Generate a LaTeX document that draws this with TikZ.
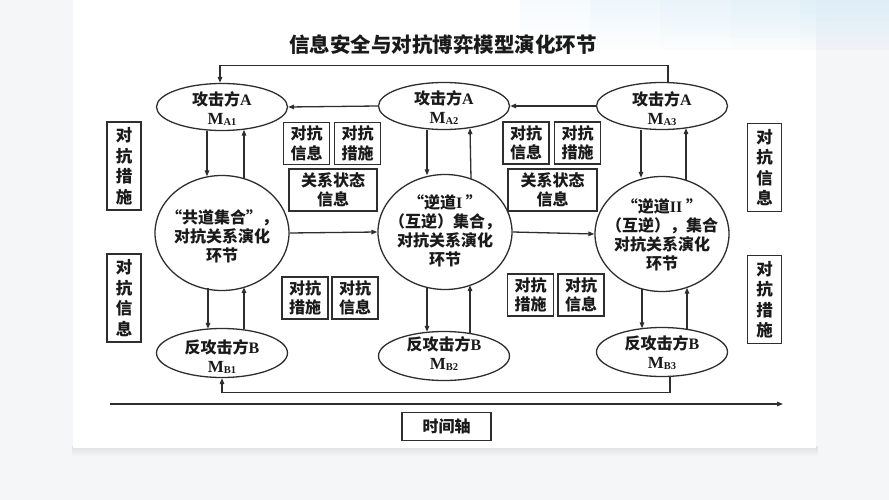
\documentclass[tikz,border=0pt]{standalone}
\usepackage{fontspec}
\usetikzlibrary{shapes.geometric,arrows.meta,fadings,calc}
\setmainfont{Noto Sans CJK SC}
\newfontfamily\lat{Liberation Serif}
\definecolor{linec}{HTML}{2E2E2E}
\definecolor{textc}{HTML}{1A1A1A}
\definecolor{bgc}{HTML}{F5F6F7}
\definecolor{tintc}{HTML}{D6ECF8}
\newcommand\LA[1]{{\lat\bfseries #1}}
\newcommand\MSub[1]{{\lat\bfseries\fontsize{17pt}{17pt}\selectfont M\raisebox{-1pt}{\fontsize{10.5pt}{10.5pt}\selectfont #1}}}
\begin{document}
\begin{tikzpicture}[x=1pt,y=-1pt,
  line/.style={draw=linec, line width=1.3pt},
  arr/.style={line, -{Triangle[length=6pt,width=4.5pt]}},
  ellA/.style={ellipse, draw=linec, line width=1.3pt, fill=white, minimum width=131pt, minimum height=47pt, inner sep=0pt},
  circ/.style={ellipse, draw=linec, line width=1.3pt, fill=white, minimum width=134pt, minimum height=115pt, inner sep=0pt},
  txt/.style={align=center, font=\bfseries\fontsize{16pt}{19pt}\selectfont, text=textc, inner sep=0pt},
  box/.style={draw=linec, line width=1.3pt, fill=white, minimum width=46pt, minimum height=42pt, inner sep=0pt, align=center, text=textc, font=\bfseries\fontsize{16pt}{19.5pt}\selectfont},
  wbox/.style={box, minimum width=88pt},
  sbox/.style={box, minimum width=34pt, minimum height=88pt, font=\bfseries\fontsize{16.5pt}{20.5pt}\selectfont}
]
\useasboundingbox (0,0) rectangle (889,500);
% background and card
\fill[bgc] (0,0) rectangle (889,500);
\fill[black!12, path fading=south] (72,446) rectangle (818,456);
\fill[white] (73,0) rectangle (816,448);
\foreach \sx in {520,590,660,730,800}
  \fill[tintc, opacity=0.22, path fading=south] (\sx,0) rectangle (889,50);
% title
\node[font=\bfseries\fontsize{20.5pt}{24pt}\selectfont, text=textc] (title) at (443,45) {信息安全与对抗博弈模型演化环节};

% ellipses
\node[ellA] (A1) at (222,107) {};
\node[ellA] (A2) at (444,106) {};
\node[ellA] (A3) at (662,106) {};
\node[ellA, minimum height=49pt] (B1) at (222,353) {};
\node[ellA, minimum height=49pt] (B2) at (444,356) {};
\node[ellA, minimum height=49pt] (B3) at (662,352) {};
\node[circ] (C1) at (222,233) {};
\node[circ] (C2) at (445,232) {};
\node[circ] (C3) at (662,234) {};

% ellipse texts
\node[txt] (tA1) at (222,108.5) {攻击方\LA{A}\\\MSub{A1}};
\node[txt] (tA2) at (444,108) {攻击方\LA{A}\\\MSub{A2}};
\node[txt] (tA3) at (662,108.5) {攻击方\LA{A}\\\MSub{A3}};
\node[txt] (tB1) at (222,357) {反攻击方\LA{B}\\\MSub{B1}};
\node[txt] (tB2) at (444,354) {反攻击方\LA{B}\\\MSub{B2}};
\node[txt] (tB3) at (662,352.5) {反攻击方\LA{B}\\\MSub{B3}};
\node[txt] (tC1) at (222,236) {“共道集合”，\\对抗关系演化\\环节};
\node[txt] (tC2) at (445,231) {“逆道\LA{I} ”\\（互逆）集合，\\对抗关系演化\\环节};
\node[txt] (tC3) at (662,235) {“逆道\LA{II} ”\\（互逆），集合\\对抗关系演化\\环节};

% boxes
\node[box] (b1) at (306.5,143.5) {对抗\\信息};
\node[box] (b2) at (357.5,143.5) {对抗\\措施};
\node[wbox] (b3) at (333,190) {关系状态\\信息};
\node[box] (b4) at (526,143) {对抗\\信息};
\node[box] (b5) at (577.5,143) {对抗\\措施};
\node[wbox, minimum width=89pt] (b6) at (552.5,190) {关系状态\\信息};
\node[box] (b7) at (305,298) {对抗\\措施};
\node[box] (b8) at (355,298) {对抗\\信息};
\node[box] (b9) at (530.5,295) {对抗\\措施};
\node[box] (b10) at (581,295) {对抗\\信息};
\node[sbox] (s1) at (124,166) {对\\抗\\措\\施};
\node[sbox] (s2) at (124,298) {对\\抗\\信\\息};
\node[sbox] (s3) at (764.5,167.5) {对\\抗\\信\\息};
\node[sbox] (s4) at (764.5,299.5) {对\\抗\\措\\施};

% horizontal arrows
\draw[arr] (A3.west) -- (A2.east);
\draw[arr] (A2.west) -- (A1.east);
\draw[arr] (C1.east) -- (C2.west);
\draw[arr] (C2.east) -- (C3.west);

% vertical arrows column 1
\draw[arr] ([xshift=-15pt]A1.south) -- ([xshift=-15pt,yshift=-1.5pt]C1.north);
\draw[arr] ([xshift=22pt,yshift=-4pt]C1.north) -- ([xshift=22pt,yshift=1.5pt]A1.south);
\draw[arr] ([xshift=-14pt,yshift=3pt]C1.south) -- ([xshift=-14pt,yshift=-1pt]B1.north);
\draw[arr] ([xshift=22pt,yshift=-1.5pt]B1.north) -- ([xshift=22pt,yshift=4pt]C1.south);
% column 2
\draw[arr] ([xshift=-17pt]A2.south) -- ([xshift=-18pt,yshift=-1.5pt]C2.north);
\draw[arr] ([xshift=26pt,yshift=-5pt]C2.north) -- ([xshift=26pt,yshift=2pt]A2.south);
\draw[arr] ([xshift=-18pt,yshift=3pt]C2.south) -- ([xshift=-17pt,yshift=-1pt]B2.north);
\draw[arr] ([xshift=26pt,yshift=-2pt]B2.north) -- ([xshift=25pt,yshift=5pt]C2.south);
% column 3
\draw[arr] ([xshift=-21pt]A3.south) -- ([xshift=-21pt,yshift=-2pt]C3.north);
\draw[arr] ([xshift=24pt,yshift=-4.5pt]C3.north) -- ([xshift=24pt,yshift=2pt]A3.south);
\draw[arr] ([xshift=-20pt,yshift=3pt]C3.south) -- ([xshift=-20pt,yshift=-1.5pt]B3.north);
\draw[arr] ([xshift=25pt,yshift=-2pt]B3.north) -- ([xshift=25pt,yshift=4.5pt]C3.south);

% feedback loops
\draw[arr] ([xshift=6pt,yshift=-0.5pt]A3.north) -- ++(0,-17) -| ([xshift=-2pt]A1.north);
\draw[arr] ([xshift=8pt,yshift=0.5pt]B3.south) -- ++(0,16) -| (B1.south);

% time axis
\coordinate (t0) at (110,404);
\coordinate (t1) at (783,404);
\draw[arr] (t0) -- (t1);
\node[box, minimum width=89pt, minimum height=28pt, font=\bfseries\fontsize{16pt}{19pt}\selectfont] (time) at (446.5,426.5) {时间轴};
\end{tikzpicture}
\end{document}
